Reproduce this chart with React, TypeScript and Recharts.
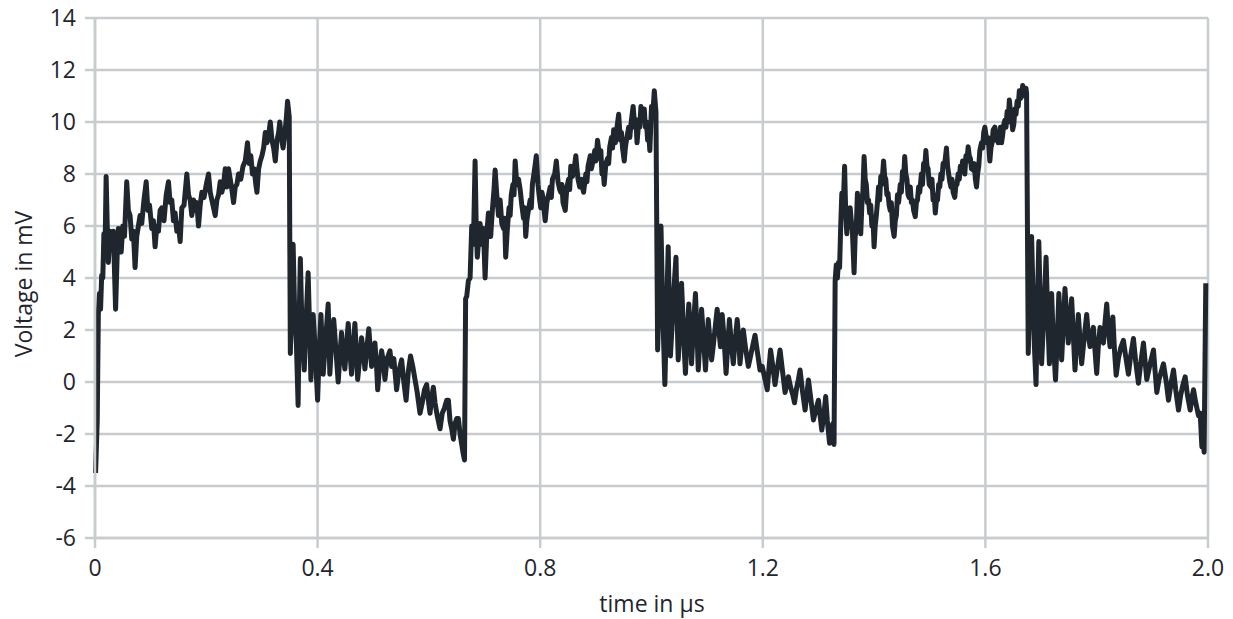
import React from 'react';
import { LineChart, Line, XAxis, YAxis, CartesianGrid } from 'recharts';

const rise1: [number, number][] = [
  [0.001, -3.5], [0.004, -1.5], [0.006, 2.6], [0.008, 3.4], [0.010, 2.8], [0.012, 4.1], [0.014, 4.0],
  [0.016, 5.7], [0.018, 5.0], [0.020, 7.9], [0.022, 6.0], [0.024, 4.6], [0.027, 5.8], [0.030, 5.5],
  [0.033, 5.8], [0.037, 2.8], [0.040, 5.0], [0.042, 5.9], [0.045, 5.2], [0.047, 5.0], [0.050, 6.0],
  [0.053, 5.6], [0.057, 7.7], [0.060, 6.6], [0.063, 6.4], [0.066, 5.5], [0.069, 5.8], [0.072, 4.4],
  [0.075, 5.6], [0.078, 6.0], [0.081, 6.4], [0.084, 6.1], [0.088, 7.0], [0.092, 7.7], [0.095, 6.6],
  [0.098, 6.8], [0.102, 5.9], [0.105, 6.2], [0.108, 5.2], [0.111, 6.0], [0.114, 5.8], [0.117, 6.6],
  [0.120, 6.7], [0.124, 6.2], [0.128, 7.2], [0.132, 7.7], [0.135, 6.9], [0.138, 7.0], [0.141, 6.2],
  [0.144, 6.5], [0.147, 5.8], [0.150, 6.1], [0.153, 5.4], [0.156, 6.7], [0.160, 6.8], [0.165, 8.0],
  [0.168, 7.2], [0.171, 7.0], [0.174, 6.4], [0.177, 7.0], [0.180, 6.6], [0.183, 6.9], [0.186, 6.0],
  [0.189, 6.8], [0.192, 7.3], [0.196, 7.1], [0.200, 7.6], [0.204, 8.0], [0.207, 7.3], [0.210, 7.0],
  [0.213, 6.7], [0.216, 6.4], [0.219, 7.0], [0.222, 7.2], [0.225, 7.7], [0.228, 7.3], [0.231, 7.6],
  [0.234, 8.2], [0.237, 7.5], [0.240, 8.2], [0.243, 7.8], [0.246, 7.4], [0.249, 6.9], [0.252, 7.5],
  [0.255, 7.6], [0.258, 8.0], [0.262, 7.8], [0.266, 8.3], [0.270, 8.5], [0.274, 9.2], [0.277, 8.4],
  [0.280, 8.7], [0.283, 8.0], [0.286, 8.2], [0.289, 7.6], [0.291, 7.3], [0.294, 8.2], [0.297, 8.5],
  [0.300, 8.7], [0.303, 9.0], [0.306, 9.6], [0.309, 9.2], [0.312, 9.5], [0.315, 10.0], [0.318, 9.3],
  [0.321, 9.0], [0.324, 8.5], [0.327, 9.3], [0.330, 9.6], [0.332, 10.0], [0.335, 9.4], [0.338, 9.0],
  [0.341, 9.5], [0.344, 10.2], [0.346, 10.8], [0.349, 10.2],
];

const fall1: [number, number][] = [
  [0.351, 1.1], [0.353, 3.0], [0.356, 5.3], [0.359, 2.5], [0.362, 1.4], [0.365, -0.9], [0.367, 2.5],
  [0.369, 4.75], [0.372, 2.0], [0.376, 0.46], [0.379, 2.2], [0.383, 4.2], [0.386, 1.8], [0.388, 0.08],
  [0.390, 1.7], [0.392, 2.6], [0.395, 1.5], [0.397, 0.6], [0.400, -0.7], [0.403, 1.2], [0.406, 2.6],
  [0.408, 1.5], [0.410, 0.3], [0.413, 1.2], [0.416, 2.1], [0.419, 3.0], [0.422, 0.3], [0.425, 1.5],
  [0.429, 2.4], [0.433, 1.2], [0.437, 0.0], [0.440, 1.0], [0.443, 1.9], [0.446, 1.0], [0.449, 0.5],
  [0.452, 1.4], [0.455, 2.25], [0.458, 1.2], [0.461, 0.3], [0.464, 1.3], [0.467, 2.25], [0.470, 1.0],
  [0.472, 0.1], [0.476, 1.0], [0.479, 1.7], [0.482, 1.2], [0.485, 0.5], [0.488, 1.2], [0.492, 2.05],
  [0.495, 1.2], [0.497, 0.6], [0.500, 1.0], [0.503, 1.5], [0.506, 0.6], [0.508, -0.3], [0.511, 0.5],
  [0.515, 1.2], [0.518, 0.8], [0.521, 0.1], [0.525, 0.9], [0.530, 1.2], [0.533, 0.6], [0.537, 0.9],
  [0.542, -0.3], [0.546, 0.4], [0.551, 0.85], [0.555, 0.0], [0.559, -0.7], [0.563, 0.4], [0.567, 1.0],
  [0.571, 0.6], [0.575, 0.1], [0.579, -0.4], [0.584, -1.2], [0.588, -0.8], [0.592, -0.3], [0.596, -0.1],
  [0.599, -0.7], [0.602, -1.2], [0.605, -0.6], [0.608, -0.2], [0.611, -0.8], [0.615, -1.3], [0.620, -1.8],
  [0.624, -1.2], [0.628, -1.0], [0.632, -0.7], [0.635, -0.7], [0.638, -1.5], [0.641, -1.8], [0.644, -2.2],
  [0.647, -1.6], [0.650, -1.4], [0.653, -1.4], [0.656, -2.0], [0.659, -2.4], [0.662, -2.8], [0.664, -3.0],
];

const rise2: [number, number][] = [
  [0.666, 3.2], [0.668, 3.3], [0.671, 3.9], [0.674, 4.0], [0.677, 6.0], [0.680, 5.3], [0.683, 8.5],
  [0.685, 6.0], [0.687, 4.8], [0.690, 5.6], [0.692, 6.1], [0.695, 5.3], [0.698, 5.9], [0.701, 4.0],
  [0.704, 5.7], [0.707, 6.5], [0.709, 6.0], [0.711, 5.6], [0.714, 6.6], [0.717, 7.4], [0.719, 8.15],
  [0.722, 7.2], [0.725, 6.4], [0.728, 7.0], [0.731, 6.1], [0.734, 5.9], [0.736, 6.3], [0.738, 4.8],
  [0.741, 5.9], [0.744, 6.7], [0.746, 6.4], [0.748, 7.2], [0.751, 7.6], [0.753, 7.2], [0.755, 8.5],
  [0.758, 7.6], [0.761, 7.8], [0.764, 7.4], [0.767, 6.8], [0.770, 6.3], [0.772, 6.7], [0.774, 5.6],
  [0.776, 6.2], [0.778, 6.5], [0.782, 7.0], [0.784, 6.7], [0.786, 7.6], [0.790, 8.2], [0.793, 8.7],
  [0.796, 7.6], [0.799, 7.0], [0.801, 6.7], [0.803, 7.3], [0.805, 7.1], [0.807, 6.6], [0.809, 6.2],
  [0.812, 6.9], [0.815, 7.2], [0.818, 7.5], [0.820, 7.1], [0.822, 7.8], [0.826, 8.0], [0.829, 8.5],
  [0.832, 7.7], [0.835, 7.4], [0.837, 7.3], [0.839, 7.6], [0.841, 6.9], [0.845, 6.6], [0.848, 7.5],
  [0.851, 7.8], [0.853, 7.4], [0.855, 8.3], [0.858, 7.9], [0.861, 8.2], [0.864, 8.7], [0.866, 8.2],
  [0.868, 7.8], [0.871, 7.5], [0.874, 7.8], [0.876, 7.5], [0.878, 7.3], [0.882, 8.0], [0.884, 7.7],
  [0.886, 8.3], [0.890, 8.7], [0.892, 8.2], [0.894, 8.4], [0.898, 8.9], [0.900, 8.5], [0.903, 9.3],
  [0.907, 8.6], [0.909, 8.9], [0.911, 8.0], [0.913, 8.2], [0.915, 7.6], [0.918, 8.4], [0.921, 8.6],
  [0.923, 8.4], [0.925, 9.05], [0.928, 9.4], [0.930, 9.0], [0.932, 9.7], [0.935, 9.2], [0.938, 9.8],
  [0.941, 10.3], [0.944, 9.3], [0.946, 9.6], [0.948, 9.0], [0.951, 8.5], [0.953, 9.0], [0.955, 9.3],
  [0.959, 9.8], [0.961, 9.4], [0.963, 9.9], [0.967, 10.6], [0.970, 9.8], [0.972, 10.1], [0.974, 9.2],
  [0.977, 10.0], [0.979, 9.8], [0.981, 10.6], [0.983, 10.2], [0.985, 10.1], [0.987, 10.5], [0.989, 9.8],
  [0.991, 10.0], [0.993, 9.3], [0.995, 9.6], [0.997, 8.9], [1.000, 10.6], [1.003, 10.5], [1.005, 11.2],
  [1.008, 10.4],
];

const fall2: [number, number][] = [
  [1.011, 1.23], [1.014, 3.5], [1.017, 6.0], [1.020, 3.0], [1.022, 1.4], [1.024, -0.1], [1.027, 2.5],
  [1.030, 5.2], [1.032, 2.8], [1.034, 1.0], [1.037, 2.2], [1.040, 3.5], [1.044, 4.8], [1.046, 2.5],
  [1.048, 0.85], [1.051, 2.0], [1.054, 3.8], [1.057, 2.2], [1.059, 1.2], [1.061, 0.33], [1.064, 1.8],
  [1.067, 3.0], [1.070, 1.8], [1.072, 0.7], [1.075, 2.0], [1.079, 3.4], [1.082, 1.8], [1.084, 0.46],
  [1.087, 1.6], [1.090, 2.8], [1.093, 1.8], [1.097, 0.46], [1.100, 1.6], [1.102, 2.4], [1.105, 1.6],
  [1.108, 0.85], [1.111, 1.4], [1.115, 2.2], [1.118, 2.8], [1.121, 2.0], [1.124, 1.36], [1.127, 2.6],
  [1.130, 1.8], [1.134, 0.33], [1.137, 1.4], [1.140, 2.4], [1.143, 1.6], [1.147, 0.7], [1.150, 1.5],
  [1.154, 2.4], [1.157, 1.6], [1.159, 0.7], [1.162, 1.4], [1.165, 2.0], [1.169, 1.3], [1.174, 0.6],
  [1.178, 1.0], [1.182, 1.4], [1.186, 1.8], [1.190, 1.2], [1.195, 0.46], [1.199, 0.6], [1.203, 0.2],
  [1.208, -0.3], [1.211, 0.5], [1.214, 1.23], [1.218, 0.6], [1.222, -0.1], [1.226, 0.5], [1.231, 1.23],
  [1.235, 0.5], [1.240, -0.4], [1.243, -0.1], [1.246, 0.2], [1.250, -0.2], [1.254, -0.5], [1.257, -0.8],
  [1.261, -0.2], [1.264, 0.1], [1.267, 0.46], [1.271, -0.3], [1.276, -1.08], [1.279, -0.5], [1.282, 0.08],
  [1.286, -0.6], [1.291, -1.46], [1.295, -1.1], [1.300, -0.7], [1.303, -1.3], [1.306, -1.85], [1.310, -1.2],
  [1.313, -0.56], [1.316, -1.5], [1.320, -2.36], [1.323, -1.8], [1.326, -1.6], [1.328, -2.4],
];

const rise3: [number, number][] = [
  [1.330, 3.9], [1.332, 4.5], [1.334, 4.0], [1.336, 4.6], [1.338, 4.4], [1.340, 6.0], [1.342, 7.26],
  [1.344, 6.4], [1.347, 8.3], [1.349, 6.5], [1.351, 5.7], [1.353, 6.6], [1.355, 6.0], [1.357, 6.7],
  [1.359, 6.2], [1.361, 5.8], [1.364, 4.2], [1.366, 5.6], [1.368, 5.9], [1.370, 7.26], [1.372, 6.6],
  [1.374, 6.2], [1.376, 5.7], [1.378, 6.8], [1.380, 7.4], [1.382, 8.67], [1.384, 7.8], [1.386, 7.6],
  [1.388, 6.9], [1.390, 7.0], [1.392, 6.5], [1.394, 6.8], [1.396, 6.0], [1.398, 6.3], [1.400, 5.2],
  [1.402, 6.0], [1.404, 6.4], [1.406, 6.9], [1.408, 7.5], [1.410, 7.0], [1.412, 7.9], [1.414, 7.6],
  [1.417, 8.5], [1.419, 7.9], [1.421, 7.8], [1.423, 7.2], [1.425, 7.26], [1.427, 6.8], [1.429, 6.6],
  [1.431, 6.9], [1.433, 6.0], [1.436, 5.6], [1.438, 6.2], [1.440, 6.4], [1.442, 7.2], [1.444, 6.9],
  [1.447, 7.6], [1.449, 7.3], [1.451, 8.1], [1.453, 7.8], [1.455, 8.67], [1.457, 8.0], [1.459, 7.8],
  [1.461, 7.2], [1.463, 7.1], [1.465, 7.5], [1.467, 6.9], [1.469, 7.0], [1.471, 6.6], [1.474, 6.36],
  [1.476, 6.9], [1.478, 7.0], [1.480, 7.5], [1.482, 7.3], [1.485, 8.0], [1.487, 7.6], [1.489, 8.4],
  [1.491, 8.2], [1.493, 8.9], [1.495, 8.3], [1.497, 8.2], [1.499, 7.6], [1.502, 7.5], [1.504, 7.8],
  [1.506, 7.0], [1.508, 7.2], [1.510, 6.5], [1.512, 7.0], [1.514, 7.0], [1.516, 7.6], [1.518, 7.5],
  [1.520, 8.0], [1.522, 7.8], [1.524, 8.4], [1.526, 8.3], [1.528, 8.6], [1.530, 9.0], [1.532, 8.3],
  [1.534, 8.0], [1.536, 7.7], [1.538, 7.5], [1.540, 7.8], [1.542, 7.3], [1.545, 7.1], [1.547, 7.6],
  [1.549, 7.6], [1.551, 8.0], [1.553, 7.8], [1.555, 8.3], [1.557, 8.15], [1.559, 8.5], [1.561, 8.4],
  [1.563, 8.0], [1.565, 8.7], [1.567, 8.5], [1.569, 9.05], [1.571, 8.7], [1.573, 8.6], [1.575, 8.2],
  [1.578, 8.15], [1.580, 8.4], [1.582, 7.8], [1.584, 7.5], [1.586, 8.0], [1.588, 8.3], [1.590, 8.9],
  [1.593, 9.2], [1.595, 9.0], [1.597, 9.6], [1.599, 9.8], [1.601, 9.5], [1.603, 9.2], [1.605, 9.4],
  [1.608, 8.5], [1.610, 9.0], [1.612, 9.2], [1.614, 9.7], [1.617, 9.8], [1.619, 9.3], [1.621, 9.6],
  [1.623, 9.2], [1.625, 9.4], [1.627, 9.8], [1.629, 9.2], [1.631, 9.5], [1.633, 9.9], [1.635, 10.07],
  [1.637, 9.8], [1.639, 10.4], [1.641, 10.0], [1.643, 10.85], [1.645, 10.4], [1.647, 10.2], [1.649, 9.7],
  [1.651, 9.9], [1.653, 10.5], [1.655, 10.3], [1.657, 10.8], [1.659, 10.6], [1.661, 11.2], [1.663, 10.9],
  [1.665, 11.0], [1.667, 11.4], [1.669, 11.2], [1.671, 11.0], [1.673, 11.3], [1.674, 11.1],
];

const fall3: [number, number][] = [
  [1.677, 1.1], [1.680, 3.5], [1.683, 5.6], [1.686, 3.0], [1.688, 1.4], [1.691, -0.1], [1.693, 2.5],
  [1.696, 5.4], [1.699, 2.5], [1.701, 0.7], [1.705, 2.6], [1.709, 4.8], [1.712, 2.5], [1.715, 0.7],
  [1.717, 2.0], [1.719, 3.4], [1.722, 1.6], [1.726, 0.08], [1.729, 1.6], [1.732, 3.4], [1.735, 2.0],
  [1.737, 0.85], [1.740, 2.2], [1.743, 3.6], [1.746, 2.5], [1.749, 1.5], [1.752, 2.4], [1.755, 3.2],
  [1.758, 1.8], [1.761, 0.46], [1.764, 1.5], [1.767, 2.6], [1.770, 1.6], [1.773, 0.7], [1.777, 1.6],
  [1.782, 2.6], [1.785, 1.8], [1.788, 1.36], [1.791, 1.8], [1.794, 2.1], [1.797, 1.2], [1.800, 0.33],
  [1.803, 1.4], [1.806, 2.1], [1.809, 1.6], [1.812, 1.5], [1.815, 2.3], [1.818, 3.0], [1.821, 2.0],
  [1.824, 1.36], [1.827, 2.0], [1.829, 2.5], [1.832, 1.2], [1.835, 0.26], [1.839, 0.9], [1.843, 1.3],
  [1.848, 1.6], [1.852, 1.0], [1.857, 0.3], [1.861, 1.0], [1.866, 1.67], [1.870, 0.8], [1.875, -0.05],
  [1.879, 0.7], [1.884, 1.5], [1.887, 0.8], [1.890, 0.1], [1.895, 0.6], [1.902, 1.23], [1.905, 0.4],
  [1.908, -0.4], [1.912, 0.1], [1.916, 0.4], [1.920, 0.7], [1.925, 0.0], [1.929, -0.7], [1.934, 0.0],
  [1.938, 0.46], [1.942, -0.3], [1.947, -1.08], [1.951, -0.5], [1.955, -0.1], [1.959, 0.2], [1.963, -0.5],
  [1.968, -1.08], [1.971, -0.6], [1.974, -0.3], [1.978, -0.8], [1.983, -1.3], [1.986, -1.2], [1.989, -2.5],
  [1.991, -2.0], [1.993, -2.7], [1.996, 3.8],
];

const xTicks = [0, 0.4, 0.8, 1.2, 1.6, 2.0];
const yTicks = [-6, -4, -2, 0, 2, 4, 6, 8, 10, 12, 14];

const data = [...rise1, ...fall1, ...rise2, ...fall2, ...rise3, ...fall3].map(([t, v]) => ({ t, v }));

const GRID = '#c8cccf';
const INK = '#1f262d';
const FONT = '"Open Sans", sans-serif';

export default function App() {
  const tickStyle = { fill: INK, fontSize: 23, fontFamily: FONT };
  return (
    <div style={{ position: 'absolute', left: 0, top: 0, background: '#fff' }}>
      <LineChart width={1233} height={619} data={data} margin={{ top: 18, right: 25, left: 35, bottom: 11 }}>
        <CartesianGrid stroke={GRID} strokeWidth={2.5} />
        <XAxis
          dataKey="t"
          type="number"
          domain={[0, 2]}
          ticks={xTicks}
          tickFormatter={(v: number) => (v === 0 ? '0' : v.toFixed(1))}
          height={70}
          stroke={GRID}
          strokeWidth={2.5}
          tickSize={10}
          tickMargin={12}
          tick={tickStyle}
          label={{
            content: () => (
              <text x={652} y={612} textAnchor="middle" fill={INK} fontSize={23} fontFamily={FONT}>
                time in µs
              </text>
            ),
          }}
        />
        <YAxis
          type="number"
          domain={[-6, 14]}
          ticks={yTicks}
          width={60}
          stroke={GRID}
          strokeWidth={2.5}
          tickSize={10}
          tickMargin={9}
          tick={tickStyle}
          label={{
            content: () => (
              <text x={32} y={284} transform="rotate(-90 32 284)" textAnchor="middle" fill={INK} fontSize={23} fontFamily={FONT}>
                Voltage in mV
              </text>
            ),
          }}
        />
        <Line
          type="linear"
          dataKey="v"
          stroke={INK}
          strokeWidth={5}
          dot={false}
          strokeLinejoin="round"
          isAnimationActive={false}
        />
      </LineChart>
    </div>
  );
}
